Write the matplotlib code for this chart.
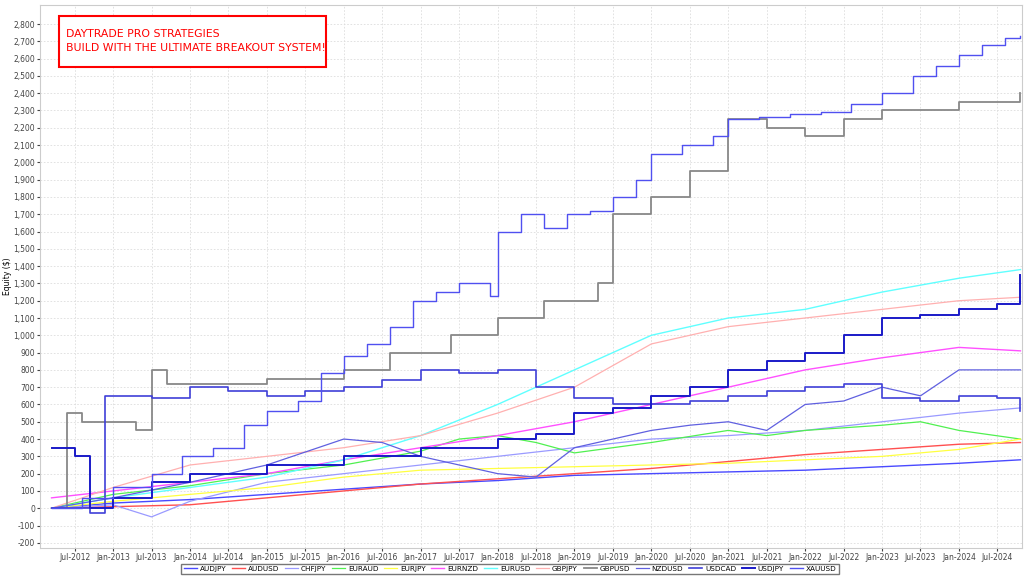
import matplotlib.pyplot as plt
from matplotlib.patches import Rectangle

# ---- data (decimal year, equity $) ----
xauusd_t = [2012.2, 2012.6, 2013.0, 2013.5, 2013.9, 2014.3, 2014.7, 2015.0, 2015.4, 2015.7, 2016.0, 2016.3, 2016.6, 2016.9, 2017.2, 2017.5, 2017.9, 2018.0, 2018.3, 2018.6, 2018.9, 2019.2, 2019.5, 2019.8, 2020.0, 2020.4, 2020.8, 2021.0, 2021.4, 2021.8, 2022.2, 2022.6, 2023.0, 2023.4, 2023.7, 2024.0, 2024.3, 2024.6, 2024.8]
xauusd_v = [0, 60, 120, 200, 300, 350, 480, 560, 620, 780, 880, 950, 1050, 1200, 1250, 1300, 1230, 1600, 1700, 1620, 1700, 1720, 1800, 1900, 2050, 2100, 2150, 2250, 2260, 2280, 2290, 2340, 2400, 2500, 2560, 2620, 2680, 2720, 2730]
gbpusd_t = [2012.2, 2012.4, 2012.6, 2013.3, 2013.5, 2013.7, 2015.0, 2016.0, 2016.6, 2017.4, 2018.0, 2018.6, 2019.3, 2019.5, 2020.0, 2020.5, 2021.0, 2021.5, 2022.0, 2022.5, 2023.0, 2024.0, 2024.8]
gbpusd_v = [0, 550, 500, 450, 800, 720, 750, 800, 900, 1000, 1100, 1200, 1300, 1700, 1800, 1950, 2250, 2200, 2150, 2250, 2300, 2350, 2400]
usdjpy_t = [2012.2, 2012.5, 2012.7, 2013.0, 2013.5, 2014.0, 2015.0, 2016.0, 2017.0, 2018.0, 2018.5, 2019.0, 2019.5, 2020.0, 2020.5, 2021.0, 2021.5, 2022.0, 2022.5, 2023.0, 2023.5, 2024.0, 2024.5, 2024.8]
usdjpy_v = [350, 300, 0, 60, 150, 200, 250, 300, 350, 400, 430, 550, 580, 650, 700, 800, 850, 900, 1000, 1100, 1120, 1150, 1180, 1350]
usdcad_t = [2012.2, 2012.7, 2012.9, 2013.5, 2014.0, 2014.5, 2015.0, 2015.5, 2016.0, 2016.5, 2017.0, 2017.5, 2018.0, 2018.5, 2019.0, 2019.5, 2020.0, 2020.5, 2021.0, 2021.5, 2022.0, 2022.5, 2023.0, 2023.5, 2024.0, 2024.5, 2024.8]
usdcad_v = [0, -30, 650, 640, 700, 680, 650, 680, 700, 740, 800, 780, 800, 700, 640, 600, 600, 620, 650, 680, 700, 720, 640, 620, 650, 640, 560]
nzdusd_t = [2012.2, 2013.0, 2014.0, 2015.0, 2016.0, 2016.5, 2017.0, 2017.5, 2018.0, 2018.5, 2019.0, 2019.5, 2020.0, 2020.5, 2021.0, 2021.5, 2022.0, 2022.5, 2023.0, 2023.5, 2024.0, 2024.8]
nzdusd_v = [0, 60, 150, 250, 400, 380, 300, 250, 200, 180, 350, 400, 450, 480, 500, 450, 600, 620, 700, 650, 800, 800]
audjpy_t = [2012.2, 2013.0, 2014.0, 2015.0, 2016.0, 2017.0, 2018.0, 2019.0, 2020.0, 2021.0, 2022.0, 2023.0, 2024.0, 2024.8]
audjpy_v = [0, 30, 50, 80, 110, 140, 160, 190, 200, 210, 220, 240, 260, 280]
audusd_t = [2012.2, 2014.0, 2015.0, 2016.0, 2017.0, 2018.0, 2019.0, 2020.0, 2021.0, 2022.0, 2023.0, 2024.0, 2024.8]
audusd_v = [0, 20, 60, 100, 140, 170, 200, 230, 270, 310, 340, 370, 380]
chfjpy_t = [2012.2, 2013.0, 2013.5, 2014.0, 2015.0, 2016.0, 2017.0, 2018.0, 2019.0, 2020.0, 2021.0, 2022.0, 2023.0, 2024.0, 2024.8]
chfjpy_v = [0, 20, -50, 40, 150, 200, 250, 300, 350, 400, 420, 450, 500, 550, 580]
euraud_t = [2012.2, 2013.0, 2014.0, 2015.0, 2016.0, 2017.0, 2017.5, 2018.0, 2018.5, 2019.0, 2020.0, 2021.0, 2021.5, 2022.0, 2023.0, 2023.5, 2024.0, 2024.8]
euraud_v = [0, 80, 130, 200, 250, 330, 400, 420, 380, 320, 380, 450, 420, 450, 480, 500, 450, 400]
eurjpy_t = [2012.2, 2013.0, 2014.0, 2015.0, 2016.0, 2017.0, 2018.0, 2019.0, 2020.0, 2021.0, 2022.0, 2023.0, 2024.0, 2024.8]
eurjpy_v = [0, 40, 80, 120, 180, 220, 230, 240, 250, 260, 280, 300, 340, 400]
eurnzd_t = [2012.2, 2013.0, 2014.0, 2015.0, 2016.0, 2017.0, 2018.0, 2019.0, 2020.0, 2021.0, 2022.0, 2023.0, 2024.0, 2024.8]
eurnzd_v = [60, 100, 150, 200, 280, 350, 420, 500, 600, 700, 800, 870, 930, 910]
eurusd_t = [2012.2, 2013.0, 2014.0, 2015.0, 2016.0, 2017.0, 2018.0, 2019.0, 2020.0, 2021.0, 2022.0, 2023.0, 2024.0, 2024.8]
eurusd_v = [0, 60, 120, 180, 280, 420, 600, 800, 1000, 1100, 1150, 1250, 1330, 1380]
gbpjpy_t = [2012.2, 2013.0, 2014.0, 2015.0, 2016.0, 2017.0, 2018.0, 2019.0, 2020.0, 2021.0, 2022.0, 2023.0, 2024.0, 2024.8]
gbpjpy_v = [0, 120, 250, 300, 350, 420, 550, 700, 950, 1050, 1100, 1150, 1200, 1220]

names = ['AUDJPY', 'AUDUSD', 'CHFJPY', 'EURAUD', 'EURJPY', 'EURNZD', 'EURUSD',
         'GBPJPY', 'GBPUSD', 'NZDUSD', 'USDCAD', 'USDJPY', 'XAUUSD']
times = [audjpy_t, audusd_t, chfjpy_t, euraud_t, eurjpy_t, eurnzd_t, eurusd_t,
         gbpjpy_t, gbpusd_t, nzdusd_t, usdcad_t, usdjpy_t, xauusd_t]
values = [audjpy_v, audusd_v, chfjpy_v, euraud_v, eurjpy_v, eurnzd_v, eurusd_v,
          gbpjpy_v, gbpusd_v, nzdusd_v, usdcad_v, usdjpy_v, xauusd_v]
colors = ['#4a4aff', '#ff5050', '#9a9aff', '#50f050', '#ffff40', '#ff50ff', '#60ffff',
          '#ffb0b0', '#888888', '#6060e0', '#4040d8', '#1a1ac8', '#5050f0']
widths = [1.0, 1.0, 0.9, 0.9, 0.9, 1.0, 1.0, 0.9, 1.3, 0.9, 1.2, 1.4, 1.0]
stepped = ['GBPUSD', 'XAUUSD', 'USDCAD', 'USDJPY']

tick_pos = [2012.5 + 0.5 * i for i in range(25)]
tick_labels = [('Jul-' if i % 2 == 0 else 'Jan-') + str(2012 + (i + 1) // 2) for i in range(25)]

fig = plt.figure(figsize=(10.24, 5.79), dpi=100)
ax = fig.add_axes([40 / 1024, 31 / 579, 982 / 1024, 543 / 579])

for t, v, c, w, n in zip(times, values, colors, widths, names):
    ds = 'steps-post' if n in stepped else 'default'
    ax.plot(t, v, drawstyle=ds, color=c, lw=w, label=n)

ax.set_xlim(2012.05, 2024.82)
ax.set_ylim(-230, 2910)
ax.set_yticks(range(-200, 2801, 100))
ax.set_yticklabels([f'{v:,}' for v in range(-200, 2801, 100)], fontsize=5.5)
ax.set_xticks(tick_pos)
ax.set_xticklabels(tick_labels, fontsize=5.5)
ax.tick_params(length=2, pad=1.5, colors='#444444')
ax.grid(True, color='#dddddd', ls=(0, (2, 2)), lw=0.6)
for s in ax.spines.values():
    s.set_color('#cccccc')
ax.set_ylabel('Equity ($)', fontsize=5.5, labelpad=1)

# red banner
ax.add_patch(Rectangle((0.019, 0.885), 0.272, 0.095, transform=ax.transAxes,
                       facecolor='white', edgecolor='red', lw=1.5, zorder=5))
ax.text(0.026, 0.933, 'DAYTRADE PRO STRATEGIES\nBUILD WITH THE ULTIMATE BREAKOUT SYSTEM!',
        transform=ax.transAxes, color='red', fontsize=7.8, va='center',
        linespacing=1.5, zorder=6)

leg = fig.legend(loc='center', bbox_to_anchor=(510 / 1024, 1 - 569 / 579), ncol=13,
                 fontsize=5.2, frameon=True, fancybox=False, handlelength=1.8,
                 columnspacing=0.8, handletextpad=0.4, borderpad=0.3)
leg.get_frame().set_edgecolor('#555555')

fig.savefig('out.png', dpi=100)
